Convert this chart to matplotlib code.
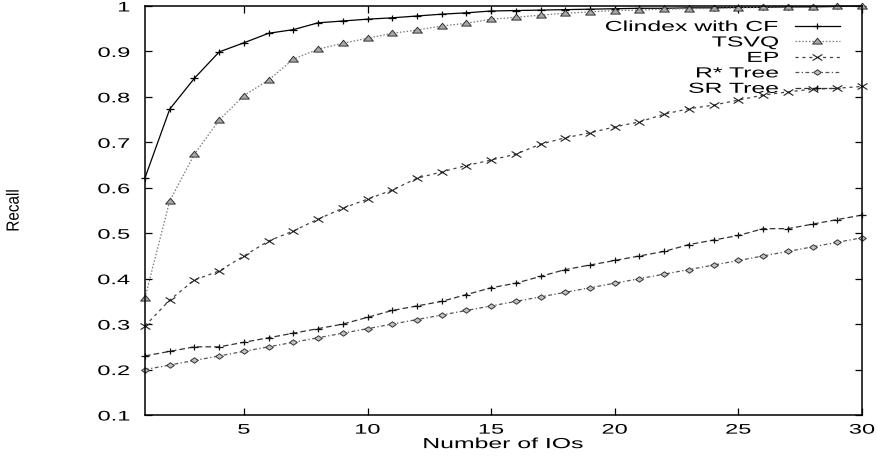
import numpy as np
import matplotlib
matplotlib.use("Agg")
import matplotlib.pyplot as plt
from matplotlib.patheffects import AbstractPathEffect
from matplotlib.transforms import Affine2D
from matplotlib.path import Path

# ---------------------------------------------------------------- data
ios = [1, 2, 3, 4, 5, 6, 7, 8, 9, 10, 11, 12, 13, 14, 15,
       16, 17, 18, 19, 20, 21, 22, 23, 24, 25, 26, 27, 28, 29, 30]

clindex_cf = [0.622, 0.773, 0.841, 0.899, 0.919, 0.940, 0.948, 0.963, 0.967, 0.971,
              0.974, 0.978, 0.982, 0.985, 0.989, 0.990, 0.991, 0.992, 0.993, 0.994,
              0.995, 0.995, 0.996, 0.996, 0.997, 0.997, 0.998, 0.998, 0.999, 1.000]

tsvq = [0.358, 0.571, 0.674, 0.749, 0.803, 0.837, 0.883, 0.905, 0.918, 0.929,
        0.940, 0.947, 0.956, 0.962, 0.971, 0.975, 0.980, 0.984, 0.987, 0.990,
        0.991, 0.993, 0.994, 0.995, 0.996, 0.997, 0.998, 0.998, 0.999, 0.999]

ep = [0.296, 0.353, 0.397, 0.417, 0.450, 0.483, 0.505, 0.531, 0.555, 0.575,
      0.595, 0.621, 0.635, 0.649, 0.661, 0.674, 0.696, 0.710, 0.721, 0.734,
      0.745, 0.762, 0.774, 0.782, 0.793, 0.804, 0.811, 0.817, 0.819, 0.823]

rstar_tree = [0.20, 0.21, 0.22, 0.23, 0.24, 0.25, 0.26, 0.27, 0.28, 0.29,
              0.30, 0.31, 0.32, 0.33, 0.34, 0.35, 0.36, 0.37, 0.38, 0.39,
              0.40, 0.41, 0.42, 0.43, 0.44, 0.45, 0.46, 0.47, 0.48, 0.49]

sr_tree = [0.230, 0.240, 0.250, 0.250, 0.260, 0.270, 0.280, 0.290, 0.300, 0.315,
           0.330, 0.340, 0.350, 0.365, 0.380, 0.390, 0.405, 0.420, 0.430, 0.440,
           0.450, 0.460, 0.475, 0.485, 0.495, 0.510, 0.510, 0.520, 0.530, 0.540]

series_labels = ["Clindex with CF", "TSVQ", "EP", "R* Tree", "SR Tree"]
x_ticks = [5, 10, 15, 20, 25, 30]
y_ticks = [0.1, 0.2, 0.3, 0.4, 0.5, 0.6, 0.7, 0.8, 0.9, 1.0]
y_tick_labels = ["0.1", "0.2", "0.3", "0.4", "0.5", "0.6", "0.7", "0.8", "0.9", "1"]

# ---------------------------------------------------------------- style
plt.rcParams["font.family"] = ["Liberation Sans", "DejaVu Sans"]

TEXT_STRETCH = 1.7


class HStretch(AbstractPathEffect):
    """Widen glyph outlines horizontally around one edge (or the centre)."""

    def __init__(self, sx, anchor="center"):
        super().__init__()
        self._sx = sx
        self._anchor = anchor

    def draw_path(self, renderer, gc, tpath, affine, rgbFace=None):
        ext = tpath.get_extents(affine)
        if not np.all(np.isfinite([ext.x0, ext.x1])):
            renderer.draw_path(gc, tpath, affine, rgbFace)
            return
        if self._anchor == "right":
            x0 = ext.x1
        elif self._anchor == "left":
            x0 = ext.x0
        else:
            x0 = 0.5 * (ext.x0 + ext.x1)
        stretch = Affine2D().translate(-x0, 0).scale(self._sx, 1).translate(x0, 0)
        renderer.draw_path(gc, tpath, affine + stretch, rgbFace)


# wide point symbols
plus_mk = Path([(-1.3, 0), (1.3, 0), (0, -1), (0, 1)],
               [Path.MOVETO, Path.LINETO, Path.MOVETO, Path.LINETO])
cross_mk = Path([(-1.6, -1), (1.6, 1), (-1.6, 1), (1.6, -1)],
                [Path.MOVETO, Path.LINETO, Path.MOVETO, Path.LINETO])
tri_mk = Path([(-1.5, -0.8), (1.5, -0.8), (0, 1.0), (-1.5, -0.8)],
              [Path.MOVETO, Path.LINETO, Path.LINETO, Path.CLOSEPOLY])
diam_mk = Path([(-1.4, 0), (0, 1), (1.4, 0), (0, -1), (-1.4, 0)],
               [Path.MOVETO, Path.LINETO, Path.LINETO, Path.LINETO, Path.CLOSEPOLY])

W, H = 878, 457
fig = plt.figure(figsize=(W / 100, H / 100), dpi=100)
ax = fig.add_axes([145 / W, 42 / H, 717 / W, 409 / H])

common = dict(clip_on=False, linewidth=0.9)
ax.plot(ios, clindex_cf, color="black", linestyle="-", marker=plus_mk,
        markersize=6, markeredgewidth=0.9, label=series_labels[0], **common)
ax.plot(ios, tsvq, color="#7a7a7a", linestyle=(0, (1.2, 1.5)), marker=tri_mk,
        markersize=7, markerfacecolor="#a8a8a8", markeredgecolor="#333333",
        markeredgewidth=0.7, label=series_labels[1], **common)
ax.plot(ios, ep, color="#444444", linestyle=(0, (2.5, 3.0)), marker=cross_mk,
        markersize=7, markeredgewidth=0.8, markeredgecolor="#222222",
        label=series_labels[2], **common)
ax.plot(ios, rstar_tree, color="#555555", linestyle=(0, (3.0, 2.0, 1.0, 2.0)),
        marker=diam_mk, markersize=5.5, markerfacecolor="#c0c0c0",
        markeredgecolor="#333333", markeredgewidth=0.7,
        label=series_labels[3], **common)
ax.plot(ios, sr_tree, color="#333333", linestyle=(0, (4.5, 2.5)), marker=plus_mk,
        markersize=6, markeredgewidth=0.9, markeredgecolor="#111111",
        label=series_labels[4], **common)

# ---------------------------------------------------------------- axes
ax.set_xlim(1, 30)
ax.set_ylim(0.1, 1.0)
ax.set_xticks(x_ticks)
ax.set_xticklabels([str(t) for t in x_ticks])
ax.set_yticks(y_ticks)
ax.set_yticklabels(y_tick_labels)
ax.tick_params(direction="in", length=5, width=0.9, top=True, right=True,
               labelsize=10, colors="black")
ax.tick_params(axis="x", pad=5.5)
ax.tick_params(axis="y", pad=11)
for sp in ax.spines.values():
    sp.set_linewidth(1.1)
    sp.set_color("black")

for lab in ax.get_xticklabels():
    lab.set_path_effects([HStretch(TEXT_STRETCH, "center")])
for lab in ax.get_yticklabels():
    lab.set_path_effects([HStretch(TEXT_STRETCH, "right")])

xl = ax.set_xlabel("Number of IOs", fontsize=10.5)
xl.set_path_effects([HStretch(TEXT_STRETCH, "center")])
ax.xaxis.set_label_coords(0.5, -0.054)
xl.set_va("top")

yl = ax.set_ylabel("Recall", fontsize=11)
yl.set_path_effects([HStretch(1.15, "center")])
ax.yaxis.set_label_coords(-0.183, 0.5)
yl.set_va("center")

# ---------------------------------------------------------------- legend
leg = ax.legend(loc="upper right", bbox_to_anchor=(840 / W, 1 - 20 / H),
                bbox_transform=fig.transFigure, frameon=False, markerfirst=False,
                numpoints=1, fontsize=10.5, handlelength=3.09, handletextpad=1.1,
                labelspacing=0.1, borderpad=0, borderaxespad=0)
for t in leg.get_texts():
    t.set_path_effects([HStretch(TEXT_STRETCH, "right")])

fig.savefig("out.png", dpi=100)
